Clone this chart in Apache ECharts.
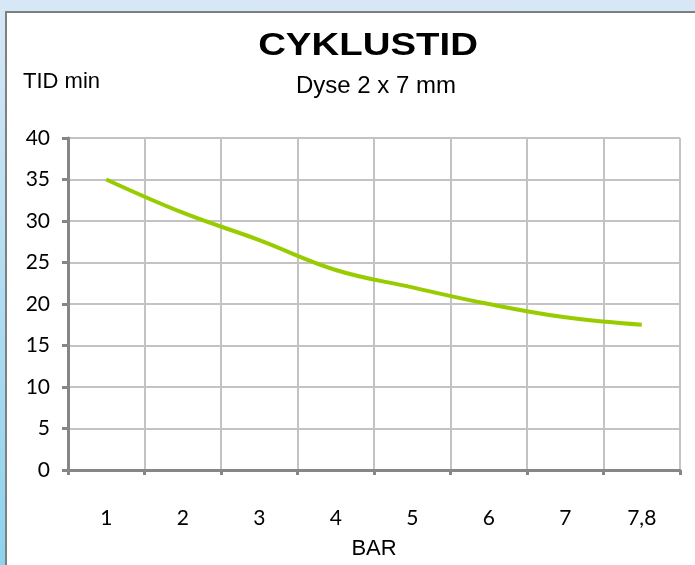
<!DOCTYPE html>
<html lang="da">
<head>
<meta charset="UTF-8">
<title>Cyklustid</title>
<script src="https://cdn.jsdelivr.net/npm/echarts@6/dist/echarts.min.js"></script>
<style>
  html, body { margin: 0; padding: 0; }
  body {
    width: 695px; height: 565px; overflow: hidden; position: relative;
    background: linear-gradient(to bottom, #d7e7f6, #8dd3ef);
  }
  #panel {
    position: absolute; left: 5px; top: 11px; width: 700px; height: 570px;
    background: #fff; border-left: 2px solid #7f7f7f; border-top: 2px solid #7f7f7f;
  }
  #chart { position: absolute; left: 0; top: 0; width: 695px; height: 565px; }
</style>
</head>
<body>
<div id="panel"></div>
<div id="chart"></div>
<script>
  // BAR (tryk) kategorier og cyklustid i minutter
  var bars = ["1", "2", "3", "4", "5", "6", "7", "7,8"];
  var tid = [35, 31, 27.7, 24.1, 22, 20, 18.4, 17.5];
  var yTicks = [0, 5, 10, 15, 20, 25, 30, 35, 40];

  var myChart = echarts.init(document.getElementById("chart"));
  var option = {
    backgroundColor: "transparent",
    graphic: [
      {
        type: "text", x: 368, y: 30, scaleX: 1.2,
        style: { text: "CYKLUSTID", fill: "#000", font: "bold 32px 'Liberation Sans', Arial",
                 textAlign: "center", textVerticalAlign: "top" }
      },
      {
        type: "text", x: 376, y: 74,
        style: { text: "Dyse 2 x 7 mm", fill: "#000", font: "24px 'Liberation Sans', Arial",
                 textAlign: "center", textVerticalAlign: "top" }
      },
      {
        type: "text", x: 23, y: 71,
        style: { text: "TID min", fill: "#000", font: "22px 'Liberation Sans', Arial",
                 textAlign: "left", textVerticalAlign: "top" }
      }
    ],
    grid: { left: 68, top: 138, width: 612, height: 333, containLabel: false },
    xAxis: {
      type: "category",
      data: bars,
      boundaryGap: true,
      name: "BAR",
      nameLocation: "middle",
      nameGap: 68,
      nameTextStyle: { color: "#000", fontSize: 22, fontFamily: "Liberation Sans", verticalAlign: "top" },
      axisLine: { lineStyle: { color: "#868686", width: 3 } },
      axisTick: { show: true, length: 5, lineStyle: { color: "#868686", width: 3 } },
      axisLabel: { color: "#000", fontSize: 21, fontFamily: "Lato", margin: 38 },
      splitLine: { show: true, lineStyle: { color: "#c3c3c3", width: 2 } }
    },
    yAxis: {
      type: "value",
      min: 0, max: 40, interval: 5,
      axisLine: { show: true, lineStyle: { color: "#868686", width: 3 } },
      axisTick: { show: true, length: 6, lineStyle: { color: "#868686", width: 3 } },
      axisLabel: {
        color: "#000", fontSize: 21, fontFamily: "Lato", margin: 18,
        formatter: function (v) { return yTicks.indexOf(v) >= 0 ? String(v) : ""; }
      },
      splitLine: { show: true, lineStyle: { color: "#c3c3c3", width: 2 } }
    },
    series: [{
      name: "Cyklustid",
      type: "line",
      data: tid,
      smooth: 0.4,
      showSymbol: false,
      lineStyle: { color: "#99cc00", width: 4 }
    }]
  };
  myChart.setOption(option);
</script>
</body>
</html>
